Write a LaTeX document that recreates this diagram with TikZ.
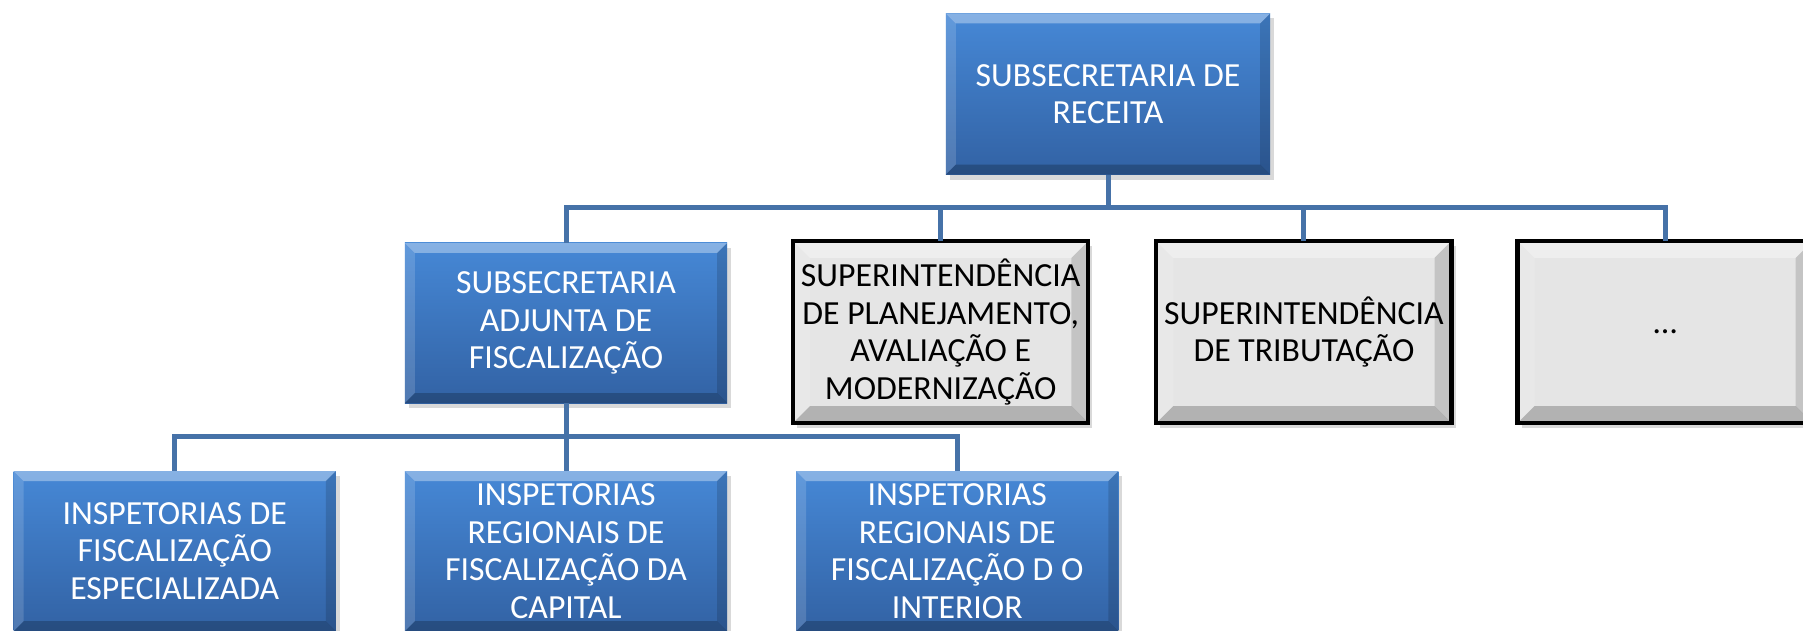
\documentclass[tikz,border=0pt]{standalone}
\usepackage{fontspec}
\setmainfont{Carlito}
\usetikzlibrary{calc, positioning, shadows}
\definecolor{box_blue_top}{RGB}{70, 136, 214}
\definecolor{box_blue_bot}{RGB}{50, 98, 164}
\definecolor{box_grey}{RGB}{229, 229, 229}
\definecolor{link_blue}{RGB}{70, 114, 168}
\tikzset {
  bevel/.style = {path picture={
      \coordinate (bsw) at (path picture bounding box.south west);
      \coordinate (bne) at (path picture bounding box.north east);
      \coordinate (bnw) at (bsw |- bne);
      \coordinate (bse) at (bne |- bsw);
      \fill[white, opacity=0.35] (bnw) -- (bne) -- ($(bne)+(-#1,-#1)$) -- ($(bnw)+(#1,-#1)$) -- cycle;
      \fill[white, opacity=0.15] (bnw) -- (bsw) -- ($(bsw)+(#1,#1)$) -- ($(bnw)+(#1,-#1)$) -- cycle;
      \fill[black, opacity=0.14] (bse) -- (bne) -- ($(bne)+(-#1,-#1)$) -- ($(bse)+(-#1,#1)$) -- cycle;
      \fill[black, opacity=0.22] (bsw) -- (bse) -- ($(bse)+(-#1,#1)$) -- ($(bsw)+(#1,#1)$) -- cycle;
  }},
  bluebox/.style = {rectangle, top color=box_blue_top, bottom color=box_blue_bot, bevel=0.1cm, text=white, align=center, inner sep=0pt, minimum width=3.22cm, minimum height=1.6cm, font=\fontsize{9.6}{10.7}\selectfont, drop shadow={opacity=0.3, shadow xshift=0.04cm, shadow yshift=-0.05cm}},
  greybox/.style = {rectangle, draw=black, line width=1.2pt, fill=box_grey, bevel=0.17cm, text=black, align=center, inner sep=0pt, minimum width=2.95cm, minimum height=1.82cm, font=\fontsize{9.6}{10.7}\selectfont, drop shadow={opacity=0.3, shadow xshift=0.04cm, shadow yshift=-0.05cm}},
  link/.style = {draw=link_blue, line width=0.05cm},
}

\begin{document}
\begin{tikzpicture}[x=0.01cm, y=-0.01cm, outer sep=0pt]
    \useasboundingbox (0,0) rectangle (1803,631);

    \coordinate (bar1) at (0,208);
    \coordinate (bar2) at (0,437);

    \node[bluebox, minimum width=3.24cm, minimum height=1.61cm] (receita) at (1108,94) {SUBSECRETARIA DE\\RECEITA};
    \node[bluebox] (fiscal) at (566,323) {SUBSECRETARIA\\ADJUNTA DE\\FISCALIZAÇÃO};
    \node[greybox, right=0.66cm of fiscal, yshift=-0.09cm] (planej) {SUPERINTENDÊNCIA\\DE PLANEJAMENTO,\\AVALIAÇÃO E\\MODERNIZAÇÃO};
    \node[greybox, right=0.68cm of planej] (tribut) {SUPERINTENDÊNCIA\\DE TRIBUTAÇÃO};
    \node[greybox, right=0.66cm of tribut] (outros) {\ldots};

    \node[bluebox, below=0.68cm of fiscal] (capital) {INSPETORIAS\\REGIONAIS DE\\FISCALIZAÇÃO DA\\CAPITAL};
    \node[bluebox, left=0.69cm of capital] (especial) {INSPETORIAS DE\\FISCALIZAÇÃO\\ESPECIALIZADA};
    \node[bluebox, right=0.69cm of capital] (interior) {INSPETORIAS\\REGIONAIS DE\\FISCALIZAÇÃO D O\\INTERIOR};

    \draw[link] (receita.south) -- (receita.south |- bar1) -| (fiscal.north);
    \draw[link] (receita.south |- bar1) -| (planej.north);
    \draw[link] (receita.south |- bar1) -| (tribut.north);
    \draw[link] (receita.south |- bar1) -| (outros.north);
    \draw[link] (fiscal.south) -- (fiscal.south |- bar2) -| (especial.north);
    \draw[link] (fiscal.south |- bar2) -- (capital.north);
    \draw[link] (fiscal.south |- bar2) -| (interior.north);

\end{tikzpicture}
\end{document}
